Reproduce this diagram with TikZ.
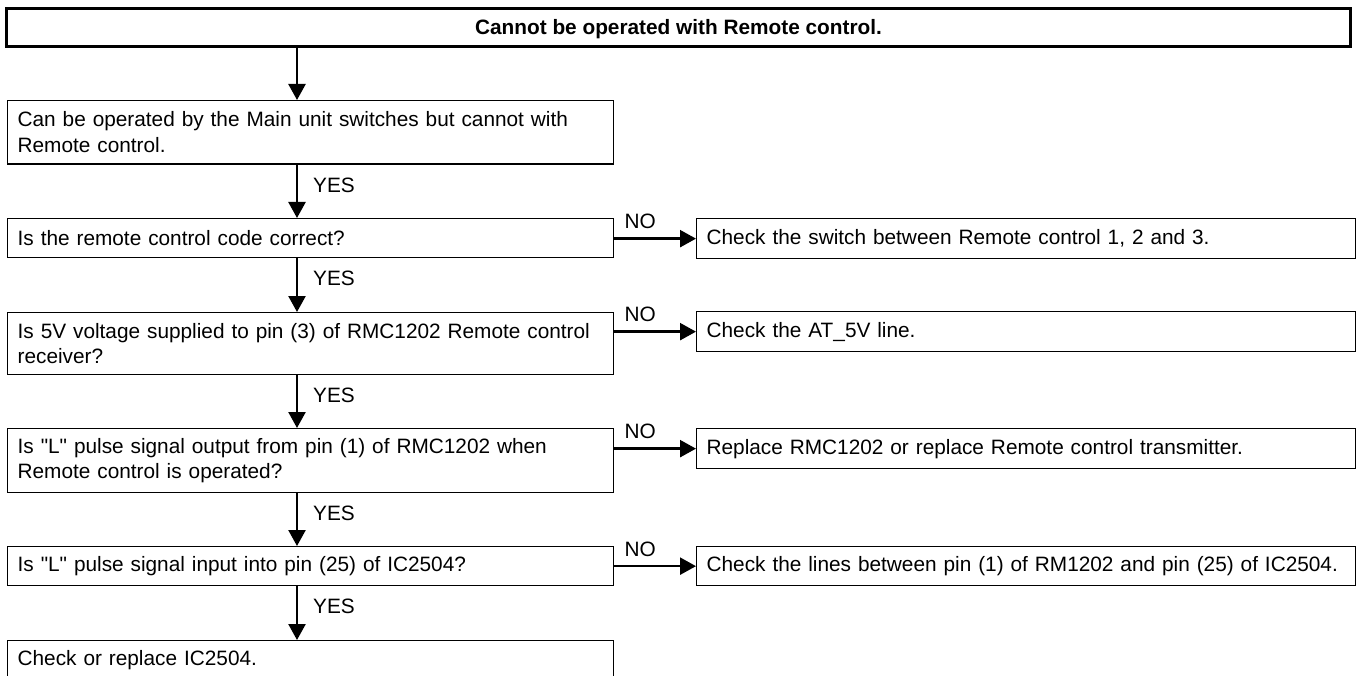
\documentclass[tikz,border=0pt]{standalone}
\usepackage{fontspec}
\setmainfont{Liberation Sans}[Ligatures=TeXOff]
\usetikzlibrary{arrows.meta}

\tikzset{
  txt/.style={font=\fontsize{20.8pt}{25.7pt}\selectfont},
  box/.style={txt, draw=black, line width=1.3pt, rectangle, anchor=north west,
    align=left, inner xsep=10pt, inner ysep=0pt},
  lbox/.style={box, text width=586pt},
  rbox/.style={box, text width=638.5pt},
  headbox/.style={font=\fontsize{20.8pt}{25.7pt}\selectfont\bfseries, draw=black,
    line width=3.5pt, rectangle, inner sep=0pt, minimum width=1344pt,
    minimum height=38pt, text height=15pt, text depth=0pt},
  flow/.style={line width=2.4pt, -{Triangle[length=16pt,width=17pt]}},
  tag/.style={txt, inner sep=0pt, anchor=base west},
}

\begin{document}
\begin{tikzpicture}[x=1pt,y=-1pt]
\useasboundingbox (0,0) rectangle (1356,676);

% heading
\node[headbox] (title) at (678.5,27.5) {Cannot be operated with Remote control.};

% left column: checks
\node[lbox, minimum height=63.5pt] (q1) at (7,100)
  {Can be operated by the Main unit switches but cannot with\\Remote control.};
\node[lbox, minimum height=39pt] (q2) at (7,218)
  {Is the remote control code correct?};
\node[lbox, minimum height=62pt] (q3) at (7,312)
  {Is 5V voltage supplied to pin (3) of RMC1202 Remote control\\receiver?};
\node[lbox, minimum height=64pt] (q4) at (7,428)
  {Is "L" pulse signal output from pin (1) of RMC1202 when\\Remote control is operated?};
\node[lbox, minimum height=39pt] (q5) at (7,546)
  {Is "L" pulse signal input into pin (25) of IC2504?};
\node[lbox, minimum height=38pt] (q6) at (7,640)
  {Check or replace IC2504.};

% right column: remedies
\node[rbox, minimum height=40pt] (r1) at (696,218)
  {Check the switch between Remote control 1, 2 and 3.};
\node[rbox, minimum height=40pt] (r2) at (696,311)
  {Check the AT\_5V line.};
\node[rbox, minimum height=40pt] (r3) at (696,428)
  {Replace RMC1202 or replace Remote control transmitter.};
\node[rbox, minimum height=39pt] (r4) at (696,546)
  {Check the lines between pin (1) of RM1202 and pin (25) of IC2504.};

% vertical spine of the YES path
\coordinate (spine) at (297,0);

\draw[flow] (title.south -| spine) -- (q1.north -| spine);
\draw[flow] (q1.south -| spine) -- (q2.north -| spine);
\draw[flow] (q2.south -| spine) -- (q3.north -| spine);
\draw[flow] (q3.south -| spine) -- (q4.north -| spine);
\draw[flow] (q4.south -| spine) -- (q5.north -| spine);
\draw[flow] (q5.south -| spine) -- (q6.north -| spine);

\path (q1.south -| spine) ++(16,27.5) node[tag] (y1) {YES};
\path (q2.south -| spine) ++(16,27) node[tag] (y2) {YES};
\path (q3.south -| spine) ++(16,27) node[tag] (y3) {YES};
\path (q4.south -| spine) ++(16,27) node[tag] (y4) {YES};
\path (q5.south -| spine) ++(16,27) node[tag] (y5) {YES};

% NO branches
\draw[flow] (r1.west -| q2.east) -- (r1.west);
\draw[flow] (r2.west -| q3.east) -- (r2.west);
\draw[flow] (r3.west -| q4.east) -- (r3.west);
\draw[flow] (r4.west -| q5.east) -- (r4.west);

\path (r1.west -| q2.east) ++(10,-10) node[tag] (n1) {NO};
\path (r2.west -| q3.east) ++(10,-10) node[tag] (n2) {NO};
\path (r3.west -| q4.east) ++(10,-10) node[tag] (n3) {NO};
\path (r4.west -| q5.east) ++(10,-10) node[tag] (n4) {NO};
\end{tikzpicture}
\end{document}
